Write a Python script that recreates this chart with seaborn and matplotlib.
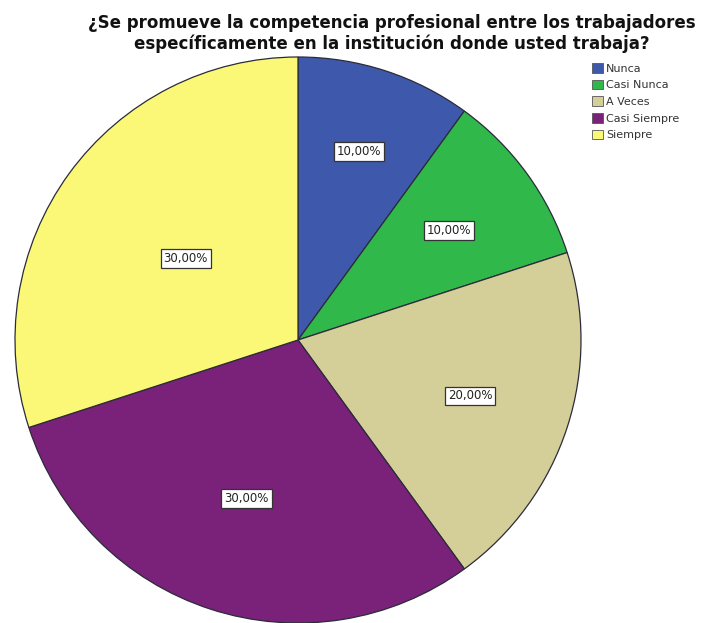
import numpy as np
import matplotlib
matplotlib.use("Agg")
import matplotlib.pyplot as plt
import seaborn as sns
from matplotlib.patches import Patch

# Survey responses (percent of respondents)
categories = ["Nunca", "Casi Nunca", "A Veces", "Casi Siempre", "Siempre"]
percentages = [10.0, 10.0, 20.0, 30.0, 30.0]
pct_labels = ["10,00%", "10,00%", "20,00%", "30,00%", "30,00%"]
colors = ["#3e58ab", "#30b84a", "#d4cf98", "#7a2179", "#fbf877"]
label_radius = [0.70, 0.66, 0.64, 0.59, 0.49]

sns.set_theme(style="white")
plt.rcParams["font.family"] = ["DejaVu Sans"]

W, H, DPI = 713, 623, 100
fig = plt.figure(figsize=(W / DPI, H / DPI), dpi=DPI)

cx, cy, r = 298, 340, 283  # pie centre and radius in pixels (from top-left)
ax = fig.add_axes([(cx - r) / W, (H - cy - r) / H, 2 * r / W, 2 * r / H])

wedges, _ = ax.pie(
    percentages,
    colors=colors,
    startangle=90,
    counterclock=False,
    radius=1.0,
    wedgeprops=dict(edgecolor="#2b2b3a", linewidth=0.9),
)

# Percentage labels inside each slice, boxed
for w, lab, rr in zip(wedges, pct_labels, label_radius):
    ang = np.deg2rad((w.theta1 + w.theta2) / 2)
    ax.text(rr * np.cos(ang), rr * np.sin(ang), lab,
            ha="center", va="center", fontsize=8.5, color="#222222",
            bbox=dict(boxstyle="square,pad=0.25", facecolor="white",
                      edgecolor="#333333", linewidth=0.9))

ax.set_xlim(-1, 1)
ax.set_ylim(-1, 1)
ax.set_aspect("equal")
ax.axis("off")

title_kw = dict(ha="center", va="baseline", fontsize=12, fontweight="bold",
                color="#111111")
fig.text(392 / W, 1 - 28 / H,
         "¿Se promueve la competencia profesional entre los trabajadores",
         **title_kw)
fig.text(392 / W, 1 - 49 / H,
         "específicamente en la institución donde usted trabaja?",
         **title_kw)

handles = [Patch(facecolor=c, edgecolor="#555555", linewidth=0.6) for c in colors]
fig.legend(handles, categories, loc="upper left",
           bbox_to_anchor=(592 / W, 1 - 63 / H), frameon=False,
           fontsize=8, handlelength=0.95, handleheight=0.95,
           handletextpad=0.3, labelspacing=0.55, borderaxespad=0,
           borderpad=0, labelcolor="#333333")

fig.savefig("out.png", dpi=DPI)
